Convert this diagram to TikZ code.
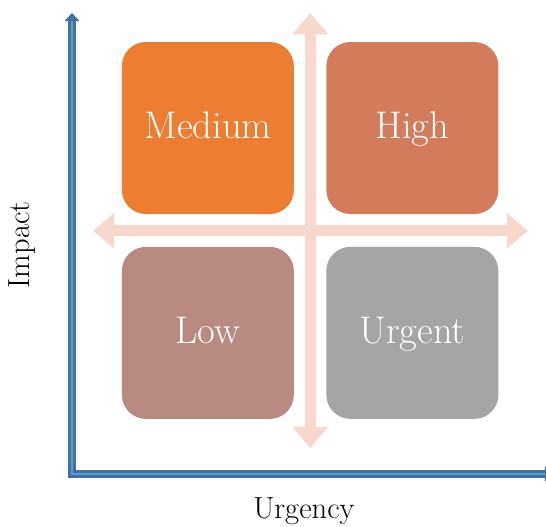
\documentclass[tikz,border=0pt]{standalone}
\usetikzlibrary{arrows.meta}
\definecolor{medorange}{RGB}{237,125,49}
\definecolor{highred}{RGB}{210,124,92}
\definecolor{lowmauve}{RGB}{185,138,130}
\definecolor{urggray}{RGB}{165,165,165}
\definecolor{crosspink}{RGB}{248,216,205}
\definecolor{axisdark}{RGB}{65,113,156}
\definecolor{axislight}{RGB}{91,155,213}
\begin{document}
\begin{tikzpicture}[
  box/.style={rounded corners=18pt, minimum size=4.55cm, inner sep=0pt,
    text=white, font=\fontsize{29}{34}\selectfont, text height=21pt, text depth=4.5pt},
  crossarrow/.style={line width=8.25pt, draw=crosspink,
    {Triangle[width=26pt,length=16pt]}-{Triangle[width=26pt,length=16pt]}},
  axisout/.style={line width=5.5pt, draw=axisdark, line join=miter,
    {Triangle[width=11pt,length=6pt]}-{Triangle[width=11pt,length=6pt]}},
  axisin/.style={line width=2.25pt, draw=axislight, line join=miter,
    shorten <=6pt, shorten >=6pt},
  axislabel/.style={font=\fontsize{23}{28}\selectfont, anchor=base}
]
\useasboundingbox (0,0) rectangle (14.446,13.917);
\coordinate (o) at (1.905,1.376);
\coordinate (ytop) at (1.905,13.57);
\coordinate (xend) at (14.63,1.376);
\coordinate (ctop) at (8.21,13.57);
\coordinate (cbot) at (8.21,2.06);
\coordinate (cleft) at (2.46,7.81);
\coordinate (cright) at (13.97,7.81);
% axes
\path[axisout] (ytop) -- (o) -- (xend);
\path[draw,axisin] (ytop) -- (o) -- (xend);
% cross
\path[crossarrow] (ctop) -- (cbot);
\path[crossarrow] (cleft) -- (cright);
% quadrants
\node[box, fill=medorange] (medium) at (5.5,10.53) {Medium};
\node[box, fill=highred] (high) at (10.91,10.53) {High};
\node[box, fill=lowmauve] (low) at (5.5,5.11) {Low};
\node[box, fill=urggray] (urgent) at (10.91,5.11) {Urgent};
% labels
\node[axislabel, rotate=90] (impact) at (0.77,7.44) {Impact};
\node[axislabel] (urgency) at (8.04,0.21) {Urgency};
\end{tikzpicture}
\end{document}
